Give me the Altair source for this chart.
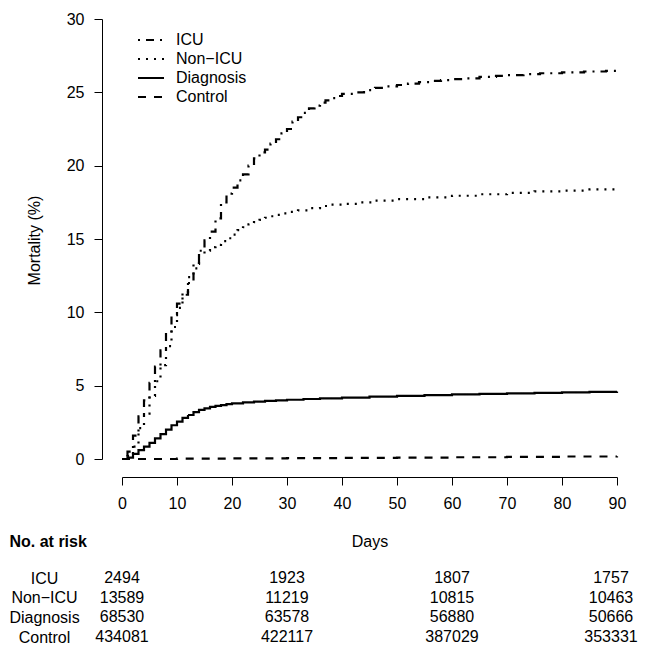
import altair as alt
import pandas as pd

FONT = "Liberation Sans"

series_names = ["ICU", "Non\u2212ICU", "Diagnosis", "Control"]
dash_patterns = [[2, 6, 8, 6], [2, 6], [1, 0], [8, 8]]

icu_days = list(range(0, 41)) + [42, 44, 46, 48, 50, 52, 54, 56, 58, 60,
                                 62, 65, 68, 70, 73, 76, 80, 84, 88, 90]
icu_vals = [0, 0.5, 1.6, 2.9, 4.0, 5.2, 6.3, 7.4, 8.6, 9.8,
            10.6, 11.2, 12.0, 13.0, 14.2, 14.9, 15.5, 16.4, 17.5, 18.1,
            18.5, 19.0, 19.4, 20.0, 20.5, 20.9, 21.1, 21.5, 21.8, 22.2,
            22.5, 23.0, 23.3, 23.6, 23.9, 24.1, 24.3, 24.45, 24.6, 24.75,
            24.9,
            25.0, 25.15, 25.3, 25.4, 25.5, 25.6, 25.7, 25.78, 25.83, 25.9,
            25.95, 26.05, 26.12, 26.18, 26.24, 26.3, 26.36, 26.42, 26.46, 26.48]

nonicu_days = list(range(0, 31)) + [32, 34, 36, 38, 40, 43, 46, 50, 55, 60,
                                    65, 70, 75, 80, 85, 90]
nonicu_vals = [0, 0.2, 0.85, 2.1, 3.1, 4.3, 5.3, 6.4, 7.7, 9.0,
               10.3, 11.4, 12.4, 13.3, 13.9, 14.2, 14.45, 14.6, 14.85, 15.05,
               15.3, 15.6, 15.8, 16.0, 16.15, 16.3, 16.45, 16.55, 16.65, 16.75,
               16.85,
               16.95, 17.1, 17.25, 17.35, 17.4, 17.5, 17.62, 17.72, 17.84, 17.95,
               18.05, 18.15, 18.25, 18.3, 18.38, 18.45]

diag_days = list(range(0, 21)) + [22, 24, 26, 28, 30, 33, 36, 40, 45, 50,
                                  55, 60, 65, 70, 75, 80, 85, 90]
diag_vals = [0, 0.1, 0.35, 0.6, 0.85, 1.1, 1.4, 1.7, 2.0, 2.3,
             2.55, 2.8, 3.0, 3.2, 3.35, 3.45, 3.55, 3.62, 3.68, 3.74,
             3.79,
             3.86, 3.91, 3.96, 4.0, 4.04, 4.09, 4.13, 4.19, 4.25, 4.3,
             4.35, 4.4, 4.44, 4.48, 4.51, 4.54, 4.57, 4.6]

ctrl_days = [0, 10, 20, 30, 40, 50, 60, 70, 80, 90]
ctrl_vals = [0, 0.02, 0.04, 0.06, 0.08, 0.1, 0.12, 0.14, 0.17, 0.19]

risk_days = [0, 30, 60, 90]
risk_icu = [2494, 1923, 1807, 1757]
risk_nonicu = [13589, 11219, 10815, 10463]
risk_diag = [68530, 63578, 56880, 50666]
risk_ctrl = [434081, 422117, 387029, 353331]

x_ticks = [0, 10, 20, 30, 40, 50, 60, 70, 80, 90]
y_ticks = [0, 5, 10, 15, 20, 25, 30]

rows = []
for name, ds, vs in zip(series_names,
                        [icu_days, nonicu_days, diag_days, ctrl_days],
                        [icu_vals, nonicu_vals, diag_vals, ctrl_vals]):
    for d, v in zip(ds, vs):
        rows.append({"series": name, "day": d, "mortality": v})
curves = pd.DataFrame(rows)

trows = []
for name, counts in zip(series_names, [risk_icu, risk_nonicu, risk_diag, risk_ctrl]):
    for d, n in zip(risk_days, counts):
        trows.append({"group": name, "day": d, "n": n})
table = pd.DataFrame(trows)
table_main = table[table["day"] < 90]
table_last = table[table["day"] == 90]

lines = alt.Chart(curves).mark_line(
    interpolate="step-after", strokeWidth=2.2, color="black"
).encode(
    x=alt.X("day:Q",
            scale=alt.Scale(domain=[0, 90], nice=False, zero=False),
            axis=alt.Axis(values=x_ticks, offset=18, tickSize=8, labelPadding=18,
                          labelBaseline="middle", labelFlush=False,
                          title="Days", titleY=64, titleBaseline="middle")),
    y=alt.Y("mortality:Q",
            scale=alt.Scale(domain=[0, 30], nice=False),
            axis=alt.Axis(values=y_ticks, offset=20, tickSize=8, labelPadding=10,
                          labelFlush=False,
                          title="Mortality (%)", titleAngle=270, titleX=-68, titleY=221,
                          titleAlign="center", titleBaseline="middle")),
    strokeDash=alt.StrokeDash(
        "series:N",
        scale=alt.Scale(domain=series_names, range=dash_patterns),
        legend=alt.Legend(title=None, orient="none", legendX=18, legendY=10,
                          symbolType="M-1.3,0H1.3", symbolSize=400,
                          symbolStrokeWidth=2, symbolStrokeColor="black",
                          labelOffset=14, labelFontSize=16, labelFont=FONT,
                          labelColor="black", rowPadding=0, padding=0)),
)

row_scale = alt.Scale(type="point", domain=series_names, range=[559, 618], padding=0)

risk_layer = alt.Chart(table_main).mark_text(
    fontSize=16, font=FONT, color="black", baseline="middle", align="center"
).encode(
    x=alt.X("day:Q"),
    y=alt.Y("group:N", scale=row_scale,
            axis=alt.Axis(orient="left", domain=False, ticks=False, tickSize=0,
                          labelPadding=78, labelAlign="center", labelBaseline="middle",
                          labelOverlap=False, grid=False,
                          title="No. at risk", titleFontWeight="bold", titleAngle=0,
                          titleX=-113, titleY=522, titleAlign="left",
                          titleBaseline="middle")),
    text=alt.Text("n:Q", format="d"),
)

risk_last = alt.Chart(table_last).mark_text(
    fontSize=16, font=FONT, color="black", baseline="middle", align="center", dx=-6
).encode(
    x=alt.X("day:Q"),
    y=alt.Y("group:N", scale=row_scale, axis=None),
    text=alt.Text("n:Q", format="d"),
)

chart = alt.layer(lines, risk_layer, risk_last).resolve_scale(y="independent").properties(
    width=495, height=440,
    autosize=alt.AutoSizeParams(type="none"),
    padding={"left": 114, "top": 11, "right": 21, "bottom": 191},
).configure_view(stroke=None).configure_axis(
    labelFont=FONT, titleFont=FONT, labelFontSize=16, titleFontSize=16,
    labelColor="black", titleColor="black", domainColor="black", tickColor="black",
    grid=False, titleFontWeight="normal", domainWidth=1, tickWidth=1,
)

chart.save("out.html", embed_options={"renderer": "svg", "actions": False})
